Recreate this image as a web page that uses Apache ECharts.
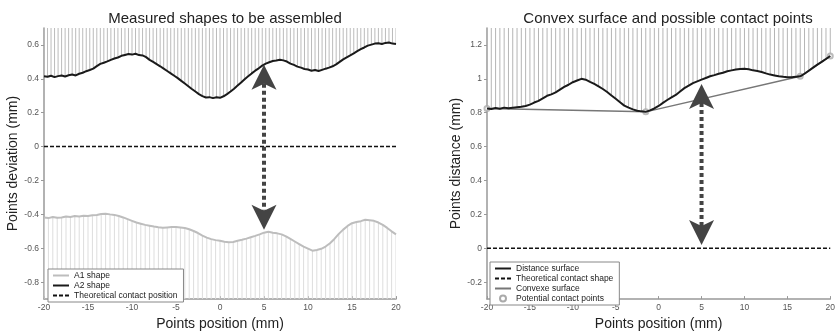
<!DOCTYPE html>
<html>
<head>
<meta charset="utf-8">
<script src="https://cdn.jsdelivr.net/npm/echarts@6/dist/echarts.min.js"></script>
<style>
  html, body { margin: 0; padding: 0; background: #fff; }
  #chart { width: 838px; height: 336px; }
</style>
</head>
<body>
<div id="chart"></div>
<script>
// sample positions (mm)
const xStart = -20;
const a2Step = 0.4;
const a1Step = 0.5;
const distStep = 0.5;

// left plot: measured shapes (mm)
const a2Shape = [
  0.415, 0.412, 0.418, 0.410, 0.416, 0.420, 0.414, 0.421, 0.425, 0.420,
  0.430, 0.436, 0.445, 0.452, 0.460, 0.475, 0.488, 0.495, 0.503, 0.512,
  0.520, 0.526, 0.536, 0.541, 0.546, 0.543, 0.548, 0.540, 0.538, 0.528,
  0.512, 0.500, 0.487, 0.474, 0.460, 0.446, 0.432, 0.418, 0.404, 0.388,
  0.372, 0.356, 0.340, 0.325, 0.310, 0.298, 0.290, 0.292, 0.286, 0.291,
  0.288, 0.297, 0.310, 0.325, 0.342, 0.360, 0.378, 0.398, 0.415, 0.432,
  0.448, 0.462, 0.478, 0.490, 0.498, 0.505, 0.508, 0.513, 0.509, 0.502,
  0.490, 0.482, 0.472, 0.466, 0.458, 0.455, 0.448, 0.452, 0.446, 0.453,
  0.460, 0.466, 0.474, 0.485, 0.500, 0.515, 0.527, 0.538, 0.550, 0.563,
  0.575, 0.585, 0.596, 0.602, 0.608, 0.610, 0.606, 0.612, 0.614, 0.608,
  0.605
];
const a1Shape = [
  -0.418, -0.422, -0.415, -0.420, -0.418, -0.412, -0.416, -0.410, -0.412, -0.408,
  -0.410, -0.405, -0.404, -0.398, -0.396, -0.400, -0.403, -0.410, -0.418, -0.428,
  -0.438, -0.448, -0.455, -0.462, -0.467, -0.472, -0.476, -0.479, -0.477, -0.475,
  -0.474, -0.477, -0.480, -0.488, -0.498, -0.510, -0.525, -0.537, -0.546, -0.552,
  -0.556, -0.562, -0.565, -0.563, -0.556, -0.550, -0.543, -0.535, -0.527, -0.518,
  -0.508, -0.502, -0.508, -0.512, -0.518, -0.530, -0.545, -0.560, -0.575, -0.590,
  -0.602, -0.614, -0.610, -0.603, -0.590, -0.570, -0.545, -0.515, -0.490, -0.468,
  -0.452, -0.445, -0.440, -0.432, -0.435, -0.438, -0.448, -0.462, -0.480, -0.500,
  -0.518
];

// right plot: distance surface and convex hull (mm)
const distSurface = [
  0.825, 0.822, 0.828, 0.824, 0.830, 0.826, 0.829, 0.832, 0.835, 0.840,
  0.848, 0.860, 0.870, 0.885, 0.900, 0.908, 0.920, 0.936, 0.952, 0.965,
  0.980, 0.990, 1.000, 0.995, 0.982, 0.970, 0.955, 0.940, 0.922, 0.902,
  0.882, 0.862, 0.842, 0.830, 0.820, 0.812, 0.808, 0.805, 0.814, 0.825,
  0.840, 0.858, 0.875, 0.890, 0.905, 0.925, 0.945, 0.960, 0.975, 0.985,
  0.995, 1.005, 1.015, 1.022, 1.030, 1.036, 1.045, 1.050, 1.055, 1.058,
  1.060, 1.056, 1.050, 1.046, 1.040, 1.032, 1.025, 1.020, 1.015, 1.012,
  1.010, 1.009, 1.012, 1.015, 1.030, 1.048, 1.066, 1.084, 1.100, 1.117,
  1.135
];
const hullX = [-20, -1.5, 16.5, 20];
const hullY = [0.825, 0.805, 1.015, 1.135];

const contactX = [-20, 20];
const contactY = [0, 0];

// dotted double arrows: [x, top tip, bottom tip]
const arrowLeft = [[5, 0.483, -0.49]];
const arrowRight = [[5, 0.97, 0.02]];

const xTicks = [-20, -15, -10, -5, 0, 5, 10, 15, 20];
const yTicksLeft = [-0.8, -0.6, -0.4, -0.2, 0, 0.2, 0.4, 0.6];
const yTicksRight = [-0.2, 0, 0.2, 0.4, 0.6, 0.8, 1, 1.2];

const FONT = "Liberation Sans";

const toPairs = (vals, step) => vals.map((v, i) => [xStart + i * step, v]);

function hatch(limit, color) {
  return function (params, api) {
    const x = api.value(0);
    const p = api.coord([x, api.value(1)]);
    const q = api.coord([x, limit]);
    return {
      type: "line",
      shape: { x1: p[0], y1: p[1], x2: q[0], y2: q[1] },
      style: { stroke: color, lineWidth: 1 }
    };
  };
}

function renderArrow(params, api) {
  const x = api.value(0);
  const t = api.coord([x, api.value(1)]);
  const b = api.coord([x, api.value(2)]);
  const hw = 12.5, hl = 25, notch = 19;
  return {
    type: "group",
    children: [
      { type: "line", shape: { x1: t[0], y1: t[1] + notch, x2: b[0], y2: b[1] - notch },
        style: { stroke: "#444", lineWidth: 4, lineDash: [4, 3] } },
      { type: "polygon", shape: { points: [[t[0], t[1]], [t[0] + hw, t[1] + hl], [t[0], t[1] + notch], [t[0] - hw, t[1] + hl]] },
        style: { fill: "#444" } },
      { type: "polygon", shape: { points: [[b[0], b[1]], [b[0] + hw, b[1] - hl], [b[0], b[1] - notch], [b[0] - hw, b[1] - hl]] },
        style: { fill: "#444" } }
    ]
  };
}

function xAxisCfg(idx) {
  return {
    type: "value", gridIndex: idx, min: -20, max: 20,
    name: "Points position (mm)", nameLocation: "middle", nameGap: 14,
    nameTextStyle: { fontFamily: FONT, fontSize: 14, color: "#222" },
    axisLine: { onZero: false, lineStyle: { color: "#999", width: 1.5 } },
    axisTick: { inside: true, length: 3, customValues: xTicks, lineStyle: { color: "#999" } },
    axisLabel: { fontFamily: FONT, fontSize: 8.5, color: "#555", margin: 4, customValues: xTicks },
    splitLine: { show: false }
  };
}

function yAxisCfg(idx, min, max, ticks, name) {
  return {
    type: "value", gridIndex: idx, min: min, max: max,
    name: name, nameLocation: "middle", nameGap: 21, nameRotate: 90,
    nameTextStyle: { fontFamily: FONT, fontSize: 14, color: "#222" },
    axisLine: { show: true, onZero: false, lineStyle: { color: "#999", width: 1.5 } },
    axisTick: { show: true, length: 3, customValues: ticks, lineStyle: { color: "#999" } },
    axisLabel: { fontFamily: FONT, fontSize: 8.5, color: "#555", margin: 5, customValues: ticks },
    splitLine: { show: false }
  };
}

const legendText = { fontFamily: FONT, fontSize: 8.5, color: "#222" };

const chart = echarts.init(document.getElementById("chart"));
chart.setOption({
  animation: false,
  title: [
    { text: "Measured shapes to be assembled", left: 220, top: 6, textAlign: "center",
      textStyle: { fontFamily: FONT, fontSize: 15, fontWeight: "normal", color: "#222" } },
    { text: "Convex surface and possible contact points", left: 663, top: 6, textAlign: "center",
      textStyle: { fontFamily: FONT, fontSize: 15, fontWeight: "normal", color: "#222" } }
  ],
  grid: [
    { left: 44, top: 28, width: 352, height: 275 },
    { left: 487, top: 28, width: 353, height: 277 }
  ],
  legend: [
    { orient: "vertical", left: 48, top: 269, itemWidth: 16, itemHeight: 6, itemGap: 1,
      padding: [2, 6, 2, 4], borderColor: "#888", borderWidth: 1, backgroundColor: "#fff",
      textStyle: legendText, selectedMode: false, itemStyle: { opacity: 0 },
      data: ["A1 shape", "A2 shape", "Theoretical contact position"] },
    { orient: "vertical", left: 490, top: 262, itemWidth: 16, itemHeight: 6, itemGap: 1,
      padding: [2, 6, 2, 4], borderColor: "#888", borderWidth: 1, backgroundColor: "#fff",
      textStyle: legendText, selectedMode: false, itemStyle: { opacity: 0 },
      data: ["Distance surface", "Theoretical contact shape", "Convexe surface",
        { name: "Potential contact points", itemStyle: { opacity: 1 } }] }
  ],
  xAxis: [xAxisCfg(0), xAxisCfg(1)],
  yAxis: [
    yAxisCfg(0, -0.9, 0.7, yTicksLeft, "Points deviation (mm)"),
    yAxisCfg(1, -0.3, 1.3, yTicksRight, "Points distance (mm)")
  ],
  series: [
    { type: "custom", xAxisIndex: 0, yAxisIndex: 0, clip: true, silent: true, z: 1,
      renderItem: hatch(0.7, "#bbb"), data: toPairs(a2Shape, a2Step) },
    { type: "custom", xAxisIndex: 0, yAxisIndex: 0, clip: true, silent: true, z: 1,
      renderItem: hatch(-0.9, "#ddd"), data: toPairs(a1Shape, a1Step) },
    { name: "A1 shape", type: "line", xAxisIndex: 0, yAxisIndex: 0, symbol: "none", z: 3,
      lineStyle: { color: "#bdbdbd", width: 2 }, itemStyle: { color: "#bdbdbd" },
      data: toPairs(a1Shape, a1Step) },
    { name: "A2 shape", type: "line", xAxisIndex: 0, yAxisIndex: 0, symbol: "none", z: 3,
      lineStyle: { color: "#1a1a1a", width: 2 }, itemStyle: { color: "#1a1a1a" },
      data: toPairs(a2Shape, a2Step) },
    { name: "Theoretical contact position", type: "line", xAxisIndex: 0, yAxisIndex: 0, symbol: "none", z: 3,
      lineStyle: { color: "#111", width: 1.5, type: [4, 2] }, itemStyle: { color: "#111" },
      data: contactX.map((x, i) => [x, contactY[i]]) },
    { type: "custom", xAxisIndex: 0, yAxisIndex: 0, silent: true, z: 5,
      renderItem: renderArrow, data: arrowLeft },

    { type: "custom", xAxisIndex: 1, yAxisIndex: 1, clip: true, silent: true, z: 1,
      renderItem: hatch(1.3, "#b5b5b5"), data: toPairs(distSurface, distStep) },
    { name: "Distance surface", type: "line", xAxisIndex: 1, yAxisIndex: 1, symbol: "none", z: 3,
      lineStyle: { color: "#1a1a1a", width: 2 }, itemStyle: { color: "#1a1a1a" },
      data: toPairs(distSurface, distStep) },
    { name: "Theoretical contact shape", type: "line", xAxisIndex: 1, yAxisIndex: 1, symbol: "none", z: 3,
      lineStyle: { color: "#111", width: 1.5, type: [4, 2] }, itemStyle: { color: "#111" },
      data: contactX.map((x, i) => [x, contactY[i]]) },
    { name: "Convexe surface", type: "line", xAxisIndex: 1, yAxisIndex: 1, symbol: "none", z: 2,
      lineStyle: { color: "#777", width: 1.5 }, itemStyle: { color: "#777" },
      data: hullX.map((x, i) => [x, hullY[i]]) },
    { name: "Potential contact points", type: "scatter", xAxisIndex: 1, yAxisIndex: 1, z: 2,
      symbol: "emptyCircle", symbolSize: 5, itemStyle: { color: "#aaa", borderColor: "#aaa" },
      data: hullX.map((x, i) => [x, hullY[i]]) },
    { type: "custom", xAxisIndex: 1, yAxisIndex: 1, silent: true, z: 5,
      renderItem: renderArrow, data: arrowRight }
  ]
});
</script>
</body>
</html>
